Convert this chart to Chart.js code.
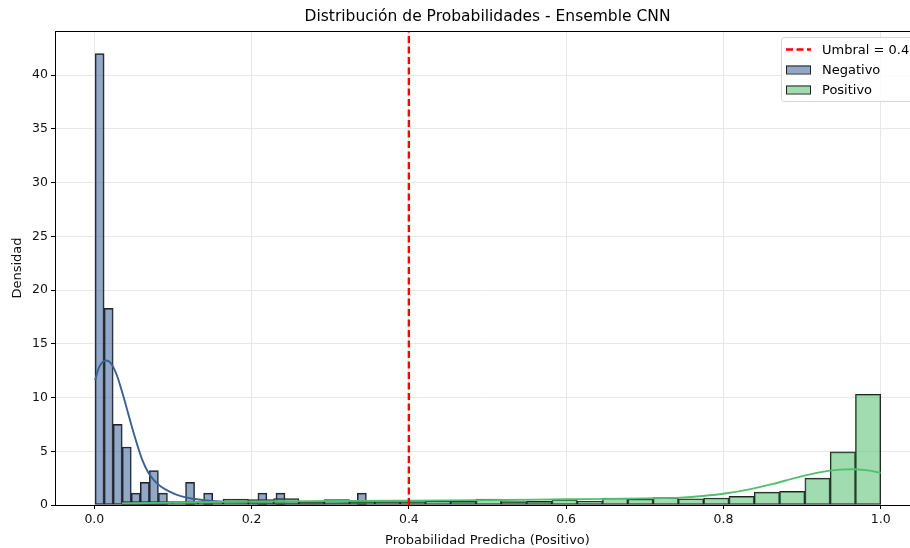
<!DOCTYPE html>
<html>
<head>
<meta charset="utf-8">
<script src="https://cdn.jsdelivr.net/npm/chart.js@4.4.1/dist/chart.umd.min.js"></script>
<style>
  html, body { margin: 0; padding: 0; background: #fff; overflow: hidden; }
  #wrap { width: 930px; height: 548px; }
</style>
</head>
<body>
<div id="wrap"><canvas id="chart" width="930" height="548"></canvas></div>
<script>
// histogram bins (density)
const negBinStart = 0.001;
const negBinWidth = 0.0115;
const negDensity = [42.0, 18.3, 7.5, 5.4, 1.1, 2.1, 3.2, 1.1, 0, 0,
                    2.1, 0, 1.1, 0, 0, 0, 0, 0, 1.1, 0,
                    1.1, 0, 0, 0, 0, 0, 0, 0, 0, 1.1];

const posBinStart = 0.035;
const posBinWidth = 0.03217;
const posDensity = [0.31, 0.31, 0.31, 0.31, 0.55, 0.5, 0.6, 0.31, 0.5, 0.31,
                    0.31, 0.31, 0.37, 0.34, 0.56, 0.31, 0.34, 0.5, 0.37, 0.65,
                    0.56, 0.68, 0.58, 0.65, 0.8, 1.2, 1.27, 2.5, 4.95, 10.3];

// KDE curves
const negKdeX = [0.001, 0.006, 0.015, 0.022, 0.029, 0.035, 0.042, 0.048, 0.055, 0.061,
                 0.068, 0.076, 0.085, 0.097, 0.11, 0.125, 0.14, 0.16, 0.18, 0.2,
                 0.24, 0.28, 0.31, 0.33, 0.345];
const negKdeY = [11.6, 12.8, 13.45, 13.1, 12.0, 10.6, 8.8, 7.2, 5.5, 4.2,
                 3.1, 2.3, 1.7, 1.2, 0.82, 0.58, 0.45, 0.33, 0.25, 0.2,
                 0.16, 0.15, 0.17, 0.2, 0.21];

const posKdeX = [0.035, 0.08, 0.15, 0.22, 0.3, 0.38, 0.45, 0.52, 0.6, 0.66,
                 0.70, 0.745, 0.774, 0.804, 0.833, 0.863, 0.893, 0.922, 0.948, 0.964,
                 0.981, 1.0];
const posKdeY = [0.15, 0.2, 0.28, 0.34, 0.37, 0.4, 0.43, 0.47, 0.53, 0.57,
                 0.62, 0.69, 0.84, 1.09, 1.46, 1.96, 2.55, 3.04, 3.29, 3.33,
                 3.24, 3.0];

const threshold = 0.4;
const xTickValues = [0, 0.2, 0.4, 0.6, 0.8, 1.0];
const yTickValues = [0, 5, 10, 15, 20, 25, 30, 35, 40];
const xLimits = [-0.05, 1.05];
const yLimits = [0, 44.1];

const blue = '#3b6194';
const green = '#52bf6e';
const blueFill = 'rgba(59, 97, 148, 0.55)';
const greenFill = 'rgba(82, 191, 110, 0.55)';
const font = 'DejaVu Sans';

const negBars = negDensity.map((d, i) => ({ x: negBinStart + (i + 0.5) * negBinWidth, y: d }));
const posBars = posDensity.map((d, i) => ({ x: posBinStart + (i + 0.5) * posBinWidth, y: d }));
const negKde = negKdeX.map((x, i) => ({ x: x, y: negKdeY[i] }));
const posKde = posKdeX.map((x, i) => ({ x: x, y: posKdeY[i] }));

// title, frame and legend in matplotlib style
const decor = {
  id: 'decor',
  afterDraw(chart) {
    const ctx = chart.ctx;
    const a = chart.chartArea;
    ctx.save();
    ctx.strokeStyle = '#000';
    ctx.lineWidth = 1;
    ctx.strokeRect(a.left + 0.5, a.top + 0.5, a.right - a.left, a.bottom - a.top);

    ctx.fillStyle = '#000';
    ctx.font = '15.5px "' + font + '"';
    ctx.textAlign = 'center';
    ctx.textBaseline = 'middle';
    ctx.fillText('Distribución de Probabilidades - Ensemble CNN', (a.left + a.right) / 2, 17);

    // legend box
    const bx = 781, by = 37, bw = 160, bh = 64;
    ctx.beginPath();
    ctx.roundRect(bx + 0.5, by + 0.5, bw, bh, 3);
    ctx.fillStyle = 'rgba(255,255,255,0.8)';
    ctx.fill();
    ctx.strokeStyle = '#d6d6d6';
    ctx.stroke();

    ctx.font = '13px "' + font + '"';
    ctx.textAlign = 'left';
    const rows = [
      { label: 'Umbral = 0.4', type: 'line' },
      { label: 'Negativo', fill: blueFill },
      { label: 'Positivo', fill: greenFill }
    ];
    rows.forEach((r, i) => {
      const cy = 49.5 + i * 20;
      if (r.type === 'line') {
        ctx.strokeStyle = 'red';
        ctx.lineWidth = 2.4;
        ctx.setLineDash([7, 3.5]);
        ctx.beginPath();
        ctx.moveTo(786, cy);
        ctx.lineTo(811, cy);
        ctx.stroke();
        ctx.setLineDash([]);
      } else {
        ctx.fillStyle = '#fff';
        ctx.fillRect(786, cy - 4, 25, 8);
        ctx.fillStyle = r.fill;
        ctx.fillRect(786, cy - 4, 25, 8);
        ctx.strokeStyle = '#222';
        ctx.lineWidth = 1;
        ctx.strokeRect(786.5, cy - 3.5, 24, 8);
      }
      ctx.fillStyle = '#000';
      ctx.fillText(r.label, 822, cy + 1);
    });
    ctx.restore();
  }
};

new Chart(document.getElementById('chart'), {
  data: {
    datasets: [
      {
        type: 'line',
        label: 'Umbral = 0.4',
        data: [{ x: threshold, y: yLimits[0] }, { x: threshold, y: yLimits[1] }],
        borderColor: 'red',
        borderWidth: 2.4,
        borderDash: [7, 3.5],
        pointRadius: 0,
        order: 0
      },
      {
        type: 'line',
        label: 'kde pos',
        data: posKde,
        borderColor: green,
        borderWidth: 1.9,
        pointRadius: 0,
        cubicInterpolationMode: 'monotone',
        order: 1
      },
      {
        type: 'bar',
        label: 'Positivo',
        xAxisID: 'x2',
        data: posBars,
        backgroundColor: greenFill,
        borderColor: '#222',
        borderWidth: 1,
        borderSkipped: false,
        barPercentage: 1,
        categoryPercentage: 1,
        grouped: false,
        order: 2
      },
      {
        type: 'line',
        label: 'kde neg',
        data: negKde,
        borderColor: blue,
        borderWidth: 1.9,
        pointRadius: 0,
        cubicInterpolationMode: 'monotone',
        order: 3
      },
      {
        type: 'bar',
        label: 'Negativo',
        xAxisID: 'x',
        data: negBars,
        backgroundColor: blueFill,
        borderColor: '#222',
        borderWidth: 1,
        borderSkipped: false,
        barPercentage: 1,
        categoryPercentage: 1,
        grouped: false,
        order: 4
      }
    ]
  },
  options: {
    responsive: false,
    animation: false,
    devicePixelRatio: 1,
    layout: { padding: { top: 31, right: 10, left: 0, bottom: 0 } },
    plugins: {
      legend: { display: false },
      title: { display: false },
      tooltip: { enabled: false }
    },
    scales: {
      x: {
        type: 'linear',
        min: xLimits[0],
        max: xLimits[1],
        offset: false,
        afterBuildTicks: s => { s.ticks = xTickValues.map(v => ({ value: v })); },
        afterFit: s => { s.height = 43; },
        grid: { color: '#e8e8e8', lineWidth: 1, offset: false, drawTicks: true, tickLength: 4, tickColor: '#000', tickWidth: 1 },
        border: { display: false },
        ticks: {
          color: '#111',
          font: { family: font, size: 12.5 },
          padding: 3,
          maxRotation: 0,
          callback: v => v.toFixed(1)
        },
        title: {
          display: true,
          text: 'Probabilidad Predicha (Positivo)',
          color: '#111',
          font: { family: font, size: 13 },
          padding: { top: 3, bottom: 0 }
        }
      },
      x2: {
        type: 'linear',
        min: xLimits[0],
        max: xLimits[1],
        offset: false,
        display: false
      },
      y: {
        min: yLimits[0],
        max: yLimits[1],
        afterBuildTicks: s => { s.ticks = yTickValues.map(v => ({ value: v })); },
        afterFit: s => { s.width = 55; },
        grid: { color: '#e8e8e8', lineWidth: 1, drawTicks: true, tickLength: 4, tickColor: '#000', tickWidth: 1 },
        border: { display: false },
        ticks: {
          color: '#111',
          font: { family: font, size: 12.5 },
          padding: 3
        },
        title: {
          display: true,
          text: 'Densidad',
          color: '#111',
          font: { family: font, size: 13 },
          padding: { top: 10, bottom: 0 }
        }
      }
    }
  },
  plugins: [decor]
});
</script>
</body>
</html>
